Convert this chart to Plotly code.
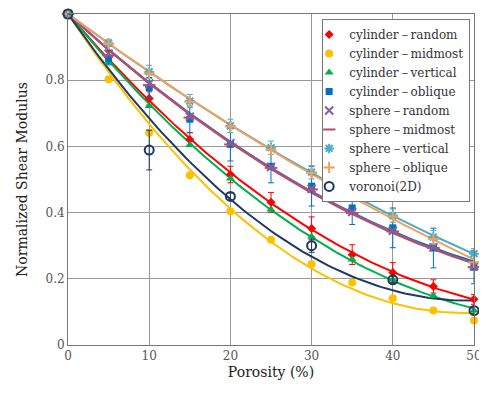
import numpy as np
import plotly.graph_objects as go

porosity = [0, 5, 10, 15, 20, 25, 30, 35, 40, 45, 50]

cyl_random   = [1, 0.870, 0.745, 0.621, 0.515, 0.431, 0.352, 0.273, 0.219, 0.177, 0.138]
cyl_midmost  = [1, 0.803, 0.641, 0.513, 0.404, 0.318, 0.245, 0.189, 0.141, 0.104, 0.074]
cyl_vertical = [1, 0.854, 0.722, 0.604, 0.503, 0.409, 0.328, 0.258, 0.197, 0.149, 0.104]
cyl_oblique  = [1, 0.866, 0.778, 0.682, 0.606, 0.540, 0.480, 0.414, 0.354, 0.293, 0.235]
sph_random   = [1, 0.880, 0.790, 0.690, 0.610, 0.538, 0.472, 0.402, 0.345, 0.295, 0.238]
sph_midmost  = [1, 0.875, 0.785, 0.687, 0.606, 0.535, 0.470, 0.399, 0.343, 0.293, 0.235]
sph_vertical = [1, 0.912, 0.825, 0.737, 0.662, 0.596, 0.522, 0.455, 0.391, 0.326, 0.276]
sph_oblique  = [1, 0.910, 0.820, 0.735, 0.660, 0.590, 0.520, 0.452, 0.388, 0.320, 0.250]
voro_x = [0, 10, 20, 30, 40, 50]
voronoi = [1, 0.589, 0.449, 0.300, 0.197, 0.104]

err_cyl_random  = [0, 0.02, 0.02, 0.02, 0.025, 0.03, 0.035, 0.03, 0.03, 0.02, 0.015]
err_cyl_oblique = [0, 0.02, 0.03, 0.04, 0.05, 0.05, 0.06, 0.05, 0.06, 0.06, 0.05]
err_sph_vertical = [0, 0.01, 0.02, 0.02, 0.02, 0.02, 0.02, 0.02, 0.02, 0.02, 0.015]
err_voronoi = [0, 0.06, 0.01, 0.02, 0.01, 0.01]

series = [
    ("cylinder－random", porosity, cyl_random, "#ff0000", "diamond", 7, err_cyl_random),
    ("cylinder－midmost", porosity, cyl_midmost, "#ffc000", "circle", 8, None),
    ("cylinder－vertical", porosity, cyl_vertical, "#00b050", "triangle-up", 8, None),
    ("cylinder－oblique", porosity, cyl_oblique, "#0070c0", "square", 7, err_cyl_oblique),
    ("sphere－random", porosity, sph_random, "#7f60a8", "x-thin-open", 8, None),
    ("sphere－midmost", porosity, sph_midmost, "#b0506a", "line-ew-open", 9, None),
    ("sphere－vertical", porosity, sph_vertical, "#4bacc6", "asterisk-open", 8, err_sph_vertical),
    ("sphere－oblique", porosity, sph_oblique, "#f0a060", "cross-thin-open", 8, None),
    ("voronoi(2D)", voro_x, voronoi, "#1f3864", "circle-open", 9, err_voronoi),
]

fig = go.Figure()

xs = np.linspace(0, 50, 101)
# fitted quadratic trendlines passing through (0, 1)
for name, x, y, color, sym, size, err in series:
    xa = np.array(x, float)[1:]
    ya = np.array(y, float)[1:] - 1.0
    A = np.vstack([xa, xa ** 2]).T
    coef, *_ = np.linalg.lstsq(A, ya, rcond=None)
    fy = 1.0 + coef[0] * xs + coef[1] * xs ** 2
    fig.add_trace(go.Scatter(x=xs, y=fy, mode="lines", line=dict(color=color, width=2),
                             showlegend=False, hoverinfo="skip", cliponaxis=False))

for name, x, y, color, sym, size, err in series:
    ed = None
    if err is not None:
        ed = dict(type="data", array=err, visible=True, color=color, thickness=1, width=3)
    fig.add_trace(go.Scatter(
        x=x, y=y, mode="markers", name=name,
        marker=dict(symbol=sym, size=size, color=color,
                    line=dict(color=color, width=2 if "open" in sym else 0)),
        error_y=ed, cliponaxis=False))

SERIF = "DejaVu Serif"
fig.update_layout(
    width=479, height=391,
    margin=dict(l=60, r=13, t=6, b=54),
    paper_bgcolor="white", plot_bgcolor="white",
    font=dict(family=SERIF, size=13, color="#222"),
    showlegend=True,
    legend=dict(x=0.626, y=0.985, xanchor="left", yanchor="top",
                bgcolor="white", bordercolor="#777", borderwidth=1,
                font=dict(family=SERIF, size=12, color="#333"),
                tracegroupgap=0, itemwidth=30, indentation=-14),
    xaxis=dict(range=[0, 50], tickvals=[0, 10, 20, 30, 40, 50],
               showgrid=True, gridcolor="#999", gridwidth=1,
               showline=True, linecolor="#777", linewidth=1, mirror=True,
               zeroline=False, ticks="", tickfont=dict(family=SERIF, size=12, color="#555"),
               title=dict(text="Porosity (%)", font=dict(family=SERIF, size=14, color="#222"), standoff=4)),
    yaxis=dict(range=[0, 1], tickvals=[0, 0.2, 0.4, 0.6, 0.8, 1],
               ticktext=["0", "0.2", "0.4", "0.6", "0.8", "1"],
               showgrid=True, gridcolor="#999", gridwidth=1,
               showline=True, linecolor="#777", linewidth=1, mirror=True,
               zeroline=False, ticks="", tickfont=dict(family=SERIF, size=12, color="#555"),
               title=dict(text="Normalized Shear Modulus", font=dict(family=SERIF, size=14, color="#222"), standoff=14)),
)

fig.write_html("out.html")
